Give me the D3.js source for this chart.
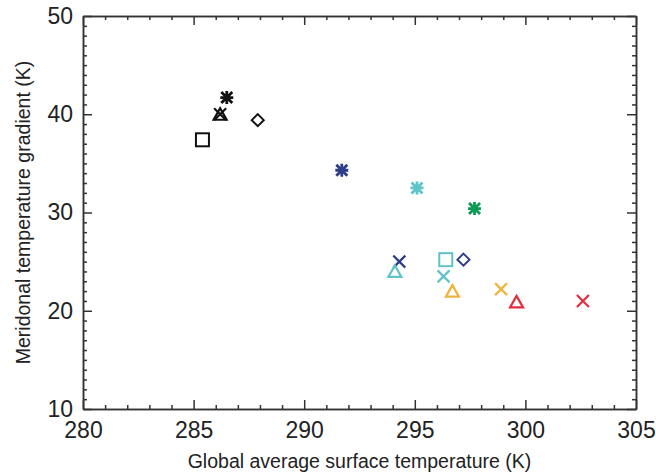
<!DOCTYPE html>
<html lang="en">
<head>
<meta charset="UTF-8">
<title>Meridional gradient vs global temperature</title>
<script src="https://d3js.org/d3.v7.min.js"></script>
<style>
body { margin: 0; background: white; }
svg { display: block; font-family: "Liberation Sans", Arial, sans-serif; }
.axis path, .axis line { stroke: #333; stroke-width: 1.5; }
.axis text { font-size: 23px; fill: #222; }
</style>
</head>
<body>
<svg></svg>
<script>
// data
const tempK   = [285.4, 286.5, 286.2, 286.2, 287.9, 291.7, 295.1, 297.7, 294.3, 294.1, 296.4, 297.2, 296.3, 296.7, 298.9, 299.6, 302.6];
const gradK   = [37.4, 41.7, 40.0, 40.0, 39.4, 34.3, 32.5, 30.4, 25.0, 24.0, 25.2, 25.2, 23.5, 22.0, 22.2, 20.9, 21.0];
const colours = ["#111", "#111", "#111", "#111", "#111", "#2e3d8a", "#5fc4c8", "#0d9a52", "#2e3d8a", "#5fc4c8", "#5fc4c8", "#2e3d8a", "#5fc4c8", "#f0b33c", "#f0b33c", "#e52c3f", "#e52c3f"];
const symbols = ["square", "star", "triangle", "cross", "diamond", "star", "star", "star", "cross", "triangle", "square", "diamond", "cross", "triangle", "cross", "triangle", "cross"];
const xTicks = [280, 285, 290, 295, 300, 305];
const yTicks = [10, 20, 30, 40, 50];

let width = 656, height = 476;
let m = {left: 83, right: 20, top: 16, bottom: 67};

let svg = d3.select("svg").attr("width", width).attr("height", height);

let x = d3.scaleLinear().domain([280, 305]).range([m.left, width - m.right]);
let y = d3.scaleLinear().domain([10, 50]).range([height - m.bottom, m.top]);

let minorX = d3.range(280, 306, 1).filter(v => v % 5 != 0);
let minorY = d3.range(10, 51, 1).filter(v => v % 10 != 0);

// bottom / top
svg.append("g").attr("class", "axis")
  .attr("transform", "translate(0," + y(10) + ")")
  .call(d3.axisBottom(x).tickValues(xTicks).tickSize(-9).tickSizeOuter(0).tickPadding(13).tickFormat(d3.format("d")));
svg.append("g").attr("class", "axis")
  .attr("transform", "translate(0," + y(10) + ")")
  .call(d3.axisBottom(x).tickValues(minorX).tickSize(-4).tickSizeOuter(0).tickFormat(""));
svg.append("g").attr("class", "axis")
  .attr("transform", "translate(0," + y(50) + ")")
  .call(d3.axisTop(x).tickValues(xTicks).tickSize(-9).tickSizeOuter(0).tickFormat(""));
svg.append("g").attr("class", "axis")
  .attr("transform", "translate(0," + y(50) + ")")
  .call(d3.axisTop(x).tickValues(minorX).tickSize(-4).tickSizeOuter(0).tickFormat(""));

// left / right
svg.append("g").attr("class", "axis")
  .attr("transform", "translate(" + x(280) + ",0)")
  .call(d3.axisLeft(y).tickValues(yTicks).tickSize(-9).tickSizeOuter(0).tickPadding(10).tickFormat(d3.format("d")));
svg.append("g").attr("class", "axis")
  .attr("transform", "translate(" + x(280) + ",0)")
  .call(d3.axisLeft(y).tickValues(minorY).tickSize(-4).tickSizeOuter(0).tickFormat(""));
svg.append("g").attr("class", "axis")
  .attr("transform", "translate(" + x(305) + ",0)")
  .call(d3.axisRight(y).tickValues(yTicks).tickSize(-9).tickSizeOuter(0).tickFormat(""));
svg.append("g").attr("class", "axis")
  .attr("transform", "translate(" + x(305) + ",0)")
  .call(d3.axisRight(y).tickValues(minorY).tickSize(-4).tickSizeOuter(0).tickFormat(""));

svg.selectAll(".axis .tick text").attr("font-family", "Liberation Sans, Arial, sans-serif");

// titles
svg.append("text")
  .attr("x", (x(280) + x(305)) / 2).attr("y", 468)
  .attr("text-anchor", "middle").style("font-size", "19.5px").style("fill", "#222")
  .text("Global average surface temperature (K)");
svg.append("text")
  .attr("transform", "translate(30," + (y(30)) + ") rotate(-90)")
  .attr("text-anchor", "middle").style("font-size", "19.5px").style("fill", "#222")
  .text("Meridonal temperature gradient (K)");

// markers
function marker(g, type, c) {
  let s = 6.5;
  if (type == "square") {
    g.append("rect").attr("x", -s).attr("y", -s).attr("width", 2 * s).attr("height", 2 * s)
      .attr("fill", "none").attr("stroke", c).attr("stroke-width", 2);
  } else if (type == "diamond") {
    g.append("path").attr("d", "M0,-6L6,0L0,6L-6,0Z")
      .attr("fill", "none").attr("stroke", c).attr("stroke-width", 2);
  } else if (type == "triangle") {
    g.append("path").attr("d", "M0,-6L6.5,5.5L-6.5,5.5Z")
      .attr("fill", "none").attr("stroke", c).attr("stroke-width", 2.2).attr("stroke-linejoin", "miter");
  } else if (type == "cross") {
    g.append("path").attr("d", "M-6,-6L6,6M-6,6L6,-6")
      .attr("stroke", c).attr("stroke-width", 2.2);
  } else if (type == "star") {
    g.append("path").attr("d", "M-6.5,0L6.5,0M0,-6.5L0,6.5M-5.5,-5.5L5.5,5.5M-5.5,5.5L5.5,-5.5")
      .attr("stroke", c).attr("stroke-width", 2.8);
  }
}

tempK.forEach((t, i) => {
  let g = svg.append("g").attr("transform", "translate(" + x(t) + "," + y(gradK[i]) + ")");
  marker(g, symbols[i], colours[i]);
});
</script>
</body>
</html>
